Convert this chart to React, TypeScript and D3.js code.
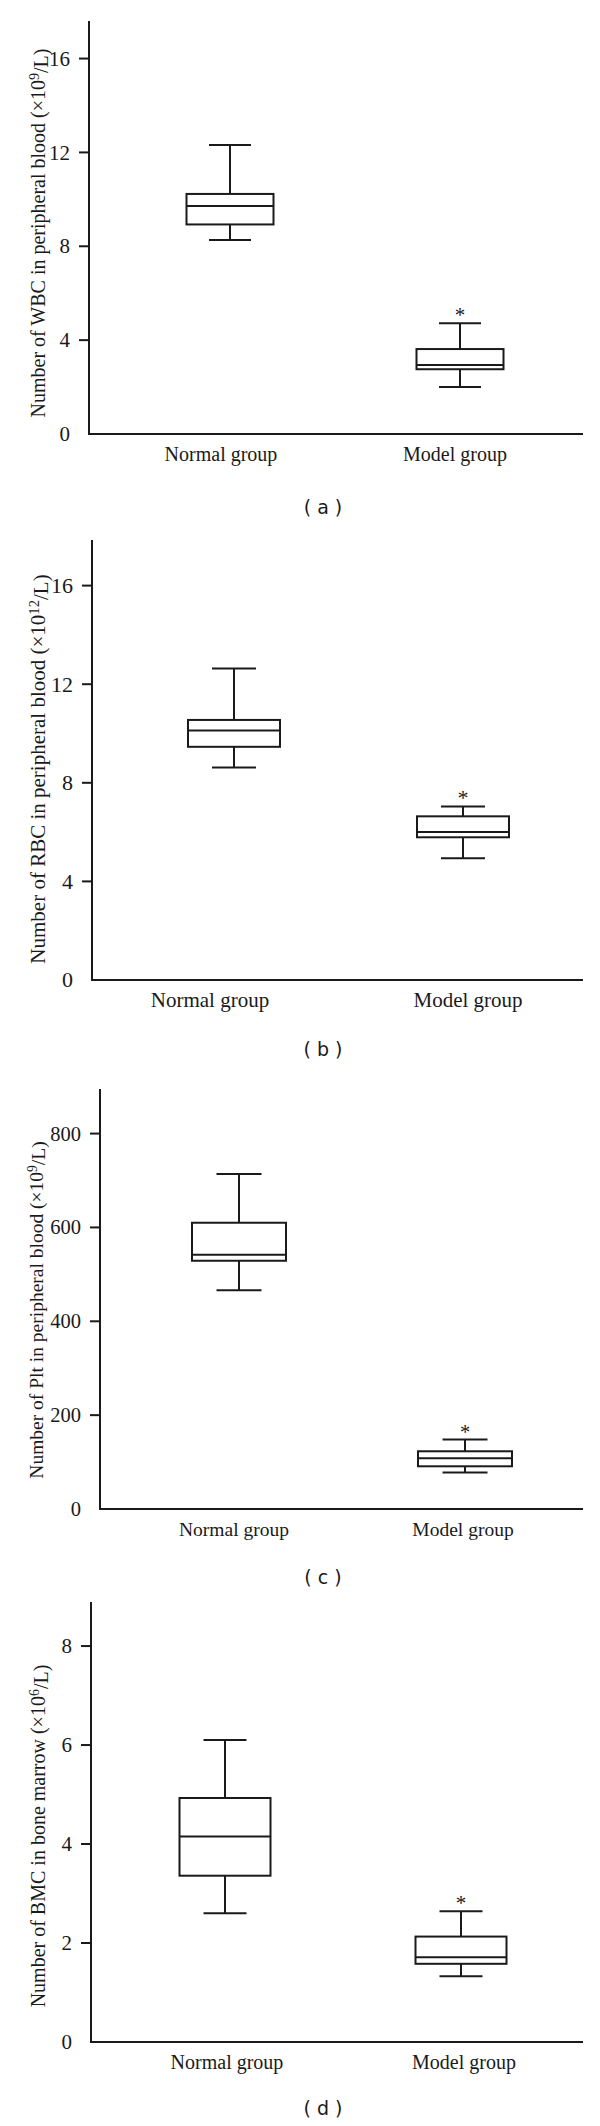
import React from "react";
import * as d3 from "d3";

// ---- data ----
const groups = ["Normal group", "Model group"];
// [min, Q1, median, Q3, max]
const wbcNormal = [8.27, 8.93, 9.72, 10.23, 12.32];
const wbcModel = [2.0, 2.76, 2.94, 3.62, 4.72];
const rbcNormal = [8.62, 9.46, 10.12, 10.55, 12.64];
const rbcModel = [4.94, 5.79, 6.0, 6.64, 7.04];
const pltNormal = [466, 529, 542, 610, 714];
const pltModel = [78, 91, 108, 123, 148];
const bmcNormal = [2.6, 3.36, 4.15, 4.93, 6.1];
const bmcModel = [1.33, 1.58, 1.71, 2.13, 2.64];

const ticksA = [0, 4, 8, 12, 16];
const ticksB = [0, 4, 8, 12, 16];
const ticksC = [0, 200, 400, 600, 800];
const ticksD = [0, 2, 4, 6, 8];

const significance = ["", "*"];

const panels = [
  {
    caption: "( a )",
    labelMain: "Number of WBC in peripheral blood (\u00d710",
    labelSup: "9",
    labelTail: "/L)",
    ticks: ticksA,
    domainMax: 17.6,
    series: [wbcNormal, wbcModel],
    L: { axisX: 89, top: 21, zero: 434, right: 583, boxX: [230, 460], labX: [221, 455], boxW: 87, capW: 42, yLabY: 233, yLabX: 45, fs: 20, capY: 507 },
  },
  {
    caption: "( b )",
    labelMain: "Number of RBC in peripheral blood (\u00d710",
    labelSup: "12",
    labelTail: "/L)",
    ticks: ticksB,
    domainMax: 17.85,
    series: [rbcNormal, rbcModel],
    L: { axisX: 92, top: 540, zero: 980, right: 583, boxX: [234, 463], labX: [210, 468], boxW: 92, capW: 44, yLabY: 769, yLabX: 45, fs: 21, capY: 1049 },
  },
  {
    caption: "( c )",
    labelMain: "Number of Plt in peripheral blood (\u00d710",
    labelSup: "9",
    labelTail: "/L)",
    ticks: ticksC,
    domainMax: 895,
    series: [pltNormal, pltModel],
    L: { axisX: 100, top: 1089, zero: 1509, right: 583, boxX: [239, 465], labX: [234, 463], boxW: 94, capW: 45, yLabY: 1310, yLabX: 43, fs: 19.5, capY: 1577 },
  },
  {
    caption: "( d )",
    labelMain: "Number of BMC in bone marrow (\u00d710",
    labelSup: "6",
    labelTail: "/L)",
    ticks: ticksD,
    domainMax: 8.89,
    series: [bmcNormal, bmcModel],
    L: { axisX: 91, top: 1602, zero: 2042, right: 583, boxX: [225, 461], labX: [227, 464], boxW: 91, capW: 43, yLabY: 1836, yLabX: 45, fs: 20, capY: 2108 },
  },
];

const INK = "#1a1a1a";
const SERIF = "'Liberation Serif', 'Times New Roman', serif";
const SANS = "'DejaVu Sans', Verdana, sans-serif";

function Panel({ p }: { p: (typeof panels)[number] }) {
  const L = p.L;
  const y = d3.scaleLinear().domain([0, p.domainMax]).range([L.zero, L.top]);
  const x = d3.scalePoint<string>().domain(groups).range(L.boxX as [number, number]);
  const xl = d3.scalePoint<string>().domain(groups).range(L.labX as [number, number]);
  const sw = 2;
  return (
    <g>
      {/* axes */}
      <line x1={L.axisX} x2={L.axisX} y1={y(p.domainMax)} y2={y(0)} stroke={INK} strokeWidth={sw} />
      <line x1={L.axisX - 1} x2={L.right} y1={y(0)} y2={y(0)} stroke={INK} strokeWidth={sw} />
      {p.ticks.map((t) => (
        <g key={t}>
          {t !== 0 && (
            <line x1={L.axisX - 10} x2={L.axisX} y1={y(t)} y2={y(t)} stroke={INK} strokeWidth={sw} />
          )}
          <text
            x={L.axisX - 19}
            y={y(t)}
            dy="0.34em"
            textAnchor="end"
            fontFamily={SERIF}
            fontSize={L.fs + 1}
            fill={INK}
          >
            {t}
          </text>
        </g>
      ))}
      {/* y label */}
      <text
        transform={`translate(${L.yLabX},${L.yLabY}) rotate(-90)`}
        textAnchor="middle"
        fontFamily={SERIF}
        fontSize={L.fs}
        fill={INK}
      >
        {p.labelMain}
        <tspan dy="-0.42em" fontSize={L.fs * 0.7}>{p.labelSup}</tspan>
        <tspan dy="0.42em">{p.labelTail}</tspan>
      </text>
      {/* boxes */}
      {groups.map((g, i) => {
        const [mn, q1, md, q3, mx] = p.series[i];
        const cx = x(g) as number;
        return (
          <g key={g} stroke={INK} strokeWidth={sw} fill="none">
            <line x1={cx} x2={cx} y1={y(mx)} y2={y(q3)} />
            <line x1={cx} x2={cx} y1={y(q1)} y2={y(mn)} />
            <line x1={cx - L.capW / 2} x2={cx + L.capW / 2} y1={y(mx)} y2={y(mx)} />
            <line x1={cx - L.capW / 2} x2={cx + L.capW / 2} y1={y(mn)} y2={y(mn)} />
            <rect x={cx - L.boxW / 2} y={y(q3)} width={L.boxW} height={y(q1) - y(q3)} fill="#fff" />
            <line x1={cx - L.boxW / 2} x2={cx + L.boxW / 2} y1={y(md)} y2={y(md)} />
            {significance[i] && (
              <text
                x={cx}
                y={y(mx) - 1}
                textAnchor="middle"
                fontFamily={SERIF}
                fontSize={L.fs + 1}
                fill={INK}
                stroke="none"
              >
                {significance[i]}
              </text>
            )}
          </g>
        );
      })}
      {/* category labels */}
      {groups.map((g) => (
        <text
          key={g}
          x={xl(g) as number}
          y={L.zero + 27}
          textAnchor="middle"
          fontFamily={SERIF}
          fontSize={L.fs}
          fill={INK}
        >
          {g}
        </text>
      ))}
      {/* caption */}
      <text
        x={323}
        y={L.capY}
        dy="0.35em"
        textAnchor="middle"
        fontFamily={SANS}
        fontSize={19}
        fill={INK}
        style={{ whiteSpace: "pre" }}
      >
        {p.caption}
      </text>
    </g>
  );
}

export default function App() {
  return (
    <svg
      width={600}
      height={2126}
      viewBox="0 0 600 2126"
      style={{ position: "absolute", left: 0, top: 0, background: "#fff" }}
    >
      <rect x={0} y={0} width={600} height={2126} fill="#fff" />
      {panels.map((p) => (
        <Panel key={p.caption} p={p} />
      ))}
    </svg>
  );
}
